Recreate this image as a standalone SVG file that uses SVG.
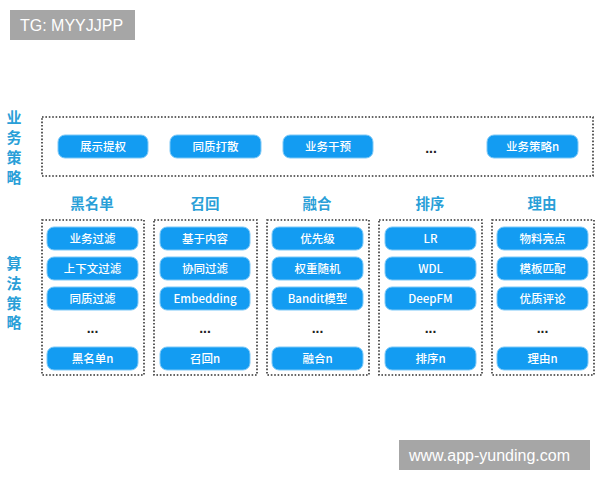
<svg xmlns="http://www.w3.org/2000/svg" width="600" height="480" viewBox="0 0 600 480">
<style>
.pill{fill:#139cf2;stroke:#7cc8f7;stroke-width:1}
.pt{fill:#fff;font-family:"Noto Sans CJK SC","Liberation Sans",sans-serif;font-size:11.5px;font-weight:500;text-anchor:middle}
.box{fill:none;stroke:#333;stroke-width:1.6;stroke-dasharray:1.6 1.8}
.side{fill:#2a9fd8;font-family:"Noto Sans CJK SC",sans-serif;font-size:15px;font-weight:700;text-anchor:middle}
.hd{fill:#2a9fd8;font-family:"Noto Sans CJK SC",sans-serif;font-size:14.5px;font-weight:700;text-anchor:middle}
.dots{fill:#222;font-family:"Liberation Sans",sans-serif;font-size:14px;font-weight:700;text-anchor:middle}
.wm{fill:#a6a6a6}
.wt{fill:#fff;font-family:"Liberation Sans",sans-serif;font-size:16px}
</style>
<rect width="600" height="480" fill="#fff"/>
<g id="tg"><rect class="wm" x="10" y="10" width="125" height="30"/><text class="wt" x="20" y="31">TG: MYYJJPP</text></g>
<g id="site"><rect class="wm" x="399" y="440" width="191" height="30"/><text class="wt" x="409" y="461">www.app-yunding.com</text></g>
<g id="side-labels">
<text class="side" x="14" y="123">业</text><text class="side" x="14" y="143">务</text><text class="side" x="14" y="163">策</text><text class="side" x="14" y="183">略</text>
<text class="side" x="14" y="269">算</text><text class="side" x="14" y="289">法</text><text class="side" x="14" y="309">策</text><text class="side" x="14" y="328">略</text>
</g>
<g id="business">
<rect class="box" x="42" y="117" width="551" height="59"/>
<g id="b1"><rect class="pill" x="58" y="135" width="90" height="23" rx="7"/><text class="pt" x="103" y="151">展示提权</text></g>
<g id="b2"><rect class="pill" x="170" y="135" width="91" height="23" rx="7"/><text class="pt" x="215.5" y="151">同质打散</text></g>
<g id="b3"><rect class="pill" x="283" y="135" width="90" height="23" rx="7"/><text class="pt" x="328" y="151">业务干预</text></g>
<text class="dots" x="431" y="153">...</text>
<g id="b4"><rect class="pill" x="487" y="135" width="91" height="23" rx="7"/><text class="pt" x="532.5" y="151">业务策略n</text></g>
</g>
<g id="headers">
<text class="hd" x="92" y="209">黑名单</text>
<text class="hd" x="205" y="209">召回</text>
<text class="hd" x="317" y="209">融合</text>
<text class="hd" x="430" y="209">排序</text>
<text class="hd" x="542" y="209">理由</text>
</g>
<g id="col-blacklist">
<rect class="box" x="42" y="220" width="102" height="155"/>
<rect class="pill" x="47" y="227" width="91" height="23" rx="7"/><text class="pt" x="92.5" y="243">业务过滤</text>
<rect class="pill" x="47" y="257" width="91" height="23" rx="7"/><text class="pt" x="92.5" y="273">上下文过滤</text>
<rect class="pill" x="47" y="287" width="91" height="23" rx="7"/><text class="pt" x="92.5" y="303">同质过滤</text>
<text class="dots" x="92.5" y="333">...</text>
<rect class="pill" x="47" y="347" width="91" height="23" rx="7"/><text class="pt" x="92.5" y="363">黑名单n</text>
</g>
<g id="col-recall">
<rect class="box" x="154" y="220" width="103" height="155"/>
<rect class="pill" x="160" y="227" width="90" height="23" rx="7"/><text class="pt" x="205" y="243">基于内容</text>
<rect class="pill" x="160" y="257" width="90" height="23" rx="7"/><text class="pt" x="205" y="273">协同过滤</text>
<rect class="pill" x="160" y="287" width="90" height="23" rx="7"/><text class="pt" x="205" y="303">Embedding</text>
<text class="dots" x="205" y="333">...</text>
<rect class="pill" x="160" y="347" width="90" height="23" rx="7"/><text class="pt" x="205" y="363">召回n</text>
</g>
<g id="col-fusion">
<rect class="box" x="267" y="220" width="102" height="155"/>
<rect class="pill" x="272" y="227" width="91" height="23" rx="7"/><text class="pt" x="317.5" y="243">优先级</text>
<rect class="pill" x="272" y="257" width="91" height="23" rx="7"/><text class="pt" x="317.5" y="273">权重随机</text>
<rect class="pill" x="272" y="287" width="91" height="23" rx="7"/><text class="pt" x="317.5" y="303">Bandit模型</text>
<text class="dots" x="317.5" y="333">...</text>
<rect class="pill" x="272" y="347" width="91" height="23" rx="7"/><text class="pt" x="317.5" y="363">融合n</text>
</g>
<g id="col-rank">
<rect class="box" x="379" y="220" width="103" height="155"/>
<rect class="pill" x="385" y="227" width="91" height="23" rx="7"/><text class="pt" x="430.5" y="243">LR</text>
<rect class="pill" x="385" y="257" width="91" height="23" rx="7"/><text class="pt" x="430.5" y="273">WDL</text>
<rect class="pill" x="385" y="287" width="91" height="23" rx="7"/><text class="pt" x="430.5" y="303">DeepFM</text>
<text class="dots" x="430.5" y="333">...</text>
<rect class="pill" x="385" y="347" width="91" height="23" rx="7"/><text class="pt" x="430.5" y="363">排序n</text>
</g>
<g id="col-reason">
<rect class="box" x="492" y="220" width="102" height="155"/>
<rect class="pill" x="497" y="227" width="91" height="23" rx="7"/><text class="pt" x="542.5" y="243">物料亮点</text>
<rect class="pill" x="497" y="257" width="91" height="23" rx="7"/><text class="pt" x="542.5" y="273">模板匹配</text>
<rect class="pill" x="497" y="287" width="91" height="23" rx="7"/><text class="pt" x="542.5" y="303">优质评论</text>
<text class="dots" x="542.5" y="333">...</text>
<rect class="pill" x="497" y="347" width="91" height="23" rx="7"/><text class="pt" x="542.5" y="363">理由n</text>
</g>
<g id="connectors"></g>
</svg>
